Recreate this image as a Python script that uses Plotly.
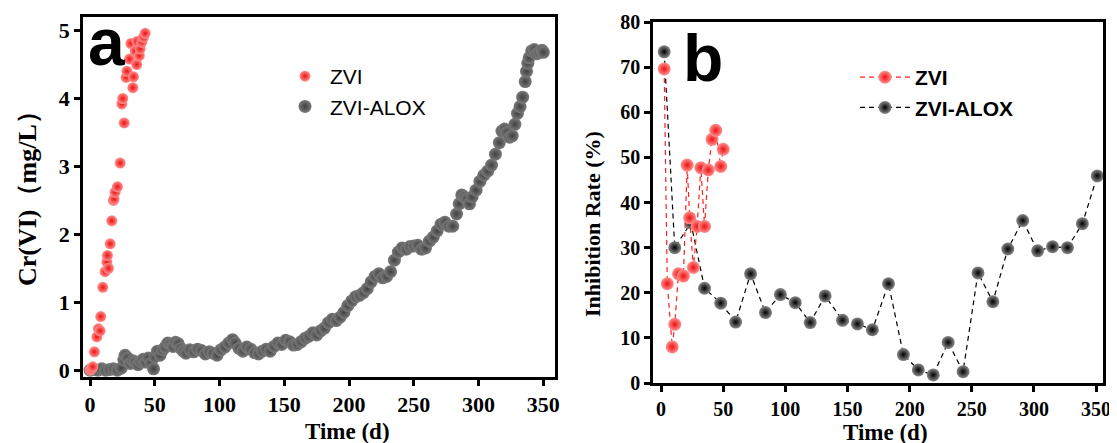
import plotly.graph_objects as go

# ---------------- data ----------------
# Panel a: Cr(VI) concentration (mg/L) vs time (d)
zvi_a_t = [0, 1, 2, 3.3, 5.2, 6.4, 7.7, 8.2, 9.8, 11.6, 12.9, 13.4, 14.2, 15.5, 16.7, 18, 18.5,
           19.3, 21.1, 23.2, 24.5, 25.2, 26.3, 27.8, 28.4, 30.4, 31.5, 33, 33.5, 34.8, 36, 36.2,
           38, 38.6, 39.9, 41.2, 42.5]
zvi_a_v = [0, 0.02, 0.05, 0.27, 0.49, 0.61, 0.58, 0.79, 1.22, 1.45, 1.59, 1.69, 1.5, 1.86, 2.2, 2.5,
           2.52, 2.62, 2.7, 3.05, 3.92, 4.0, 3.64, 4.31, 4.4, 4.58, 4.81, 4.16, 4.32, 4.7, 4.5, 4.84,
           4.63, 4.73, 4.83, 4.9, 4.96]

alox_a_t = [0, 3, 6, 9, 12, 15, 18, 21, 24, 26, 27, 29, 31, 33, 35, 37, 39, 41, 43, 45, 47, 49, 50,
            52, 54, 56, 58, 60, 62, 64, 66, 68, 70, 72, 74, 77, 80, 83, 86, 89, 92, 95, 98, 101, 104,
            107, 110, 112, 115, 118, 121, 124, 127, 130, 133, 136, 139, 142, 145, 148, 151, 154, 157,
            160, 163, 166, 169, 172, 175, 178, 181, 184, 187, 190, 193, 196, 199, 202, 205, 208, 211,
            214, 217, 220, 223, 226, 229, 232, 235, 238, 241, 244, 247, 250, 253, 256, 259, 262, 265,
            268, 271, 274, 277, 280, 283, 285, 287, 289, 291, 293, 295, 298, 301, 304, 307, 310, 313,
            316, 318, 320, 322, 324, 326, 328, 330, 332, 334, 336, 337, 338, 339, 341, 343, 345, 347,
            349, 350]
alox_a_v = [0.00, 0.01, 0.00, 0.02, 0.00, 0.01, 0.02, 0.00, 0.03, 0.15, 0.22, 0.18, 0.10, 0.14, 0.12,
            0.08, 0.13, 0.16, 0.12, 0.18, 0.10, 0.02, 0.20, 0.28, 0.22, 0.30, 0.34, 0.40, 0.38, 0.35,
            0.41, 0.39, 0.32, 0.28, 0.25, 0.30, 0.27, 0.31, 0.29, 0.24, 0.27, 0.25, 0.22, 0.30, 0.34,
            0.40, 0.45, 0.40, 0.32, 0.28, 0.34, 0.31, 0.26, 0.24, 0.28, 0.31, 0.28, 0.35, 0.40, 0.38,
            0.44, 0.42, 0.37, 0.38, 0.42, 0.47, 0.50, 0.55, 0.52, 0.58, 0.62, 0.70, 0.75, 0.73, 0.78,
            0.85, 0.95, 1.02, 1.08, 1.10, 1.14, 1.20, 1.30, 1.38, 1.42, 1.36, 1.38, 1.45, 1.62, 1.74,
            1.80, 1.78, 1.82, 1.83, 1.84, 1.78, 1.80, 1.90, 1.96, 2.05, 2.15, 2.18, 2.12, 2.12, 2.30,
            2.45, 2.58, 2.55, 2.52, 2.45, 2.55, 2.65, 2.78, 2.87, 2.93, 3.02, 3.18, 3.35, 3.52, 3.55,
            3.50, 3.43, 3.45, 3.62, 3.78, 3.88, 4.02, 4.25, 4.40, 4.52, 4.60, 4.70, 4.72, 4.66, 4.68,
            4.71, 4.68]

# Panel b: inhibition rate (%) vs time (d)
zvi_b_t = [2.5, 5, 9, 11, 14, 18, 21, 23, 26, 29, 32, 35, 38, 41, 44, 48, 50]
zvi_b_v = [69.6, 22, 8, 13, 24.2, 23.7, 48.3, 36.6, 25.6, 34.7, 47.7, 34.7, 47.2, 54, 56, 48, 51.8]

alox_b_t = [2.5, 11, 24, 35, 48, 60, 72, 84, 96, 108, 120, 132, 146, 158, 170, 183, 195, 207, 219,
            231, 243, 255, 267, 279, 291, 303, 315, 327, 339, 351]
alox_b_v = [73.4, 30, 35.5, 21, 17.7, 13.5, 24.2, 15.6, 19.6, 17.8, 13.4, 19.3, 13.9, 13.1, 11.8,
            22, 6.3, 2.9, 1.8, 9, 2.5, 24.4, 18, 29.7, 36, 29.3, 30.2, 30, 35.3, 45.9]

x_ticks = [0, 50, 100, 150, 200, 250, 300, 350]
ya_ticks = [0, 1, 2, 3, 4, 5]
yb_ticks = [0, 10, 20, 30, 40, 50, 60, 70, 80]

# ---------------- figure ----------------
W, H = 1117, 443
OFF = 8  # page body margin offset (screen px)
RED_C, RED_E = '#ff9090', '#ee1010'
GRAY_C, GRAY_E = '#7a7a7a', '#404040'
BLK_C, BLK_E = '#8a8a8a', '#000000'

fig = go.Figure()

fig.add_trace(go.Scatter(
    x=alox_a_t, y=alox_a_v, mode='markers', name='ZVI-ALOX', legend='legend', legendrank=2,
    marker=dict(size=13, color=GRAY_C, gradient=dict(type='radial', color=GRAY_E), line=dict(width=0)),
    xaxis='x', yaxis='y', cliponaxis=False))
fig.add_trace(go.Scatter(
    x=zvi_a_t, y=zvi_a_v, mode='markers', name='ZVI', legend='legend', legendrank=1,
    marker=dict(size=11, color=RED_C, gradient=dict(type='radial', color=RED_E), line=dict(width=0)),
    xaxis='x', yaxis='y', cliponaxis=False))

fig.add_trace(go.Scatter(
    x=alox_b_t, y=alox_b_v, mode='lines+markers', name='ZVI-ALOX', legend='legend2', legendrank=2,
    line=dict(color='black', width=1.2, dash='5px,4px'),
    marker=dict(size=13, color=BLK_C, gradient=dict(type='radial', color=BLK_E), line=dict(width=0)),
    xaxis='x2', yaxis='y2', cliponaxis=False))
fig.add_trace(go.Scatter(
    x=zvi_b_t, y=zvi_b_v, mode='lines+markers', name='ZVI', legend='legend2', legendrank=1,
    line=dict(color='#ff2020', width=1.2, dash='5px,4px'),
    marker=dict(size=13, color=RED_C, gradient=dict(type='radial', color=RED_E), line=dict(width=0)),
    xaxis='x2', yaxis='y2', cliponaxis=False))

tickfont_a = dict(family='Liberation Serif', size=22, color='black', weight='bold')
tickfont_b = dict(family='Liberation Serif', size=20, color='black', weight='bold')
common = dict(showline=True, linewidth=2.5, linecolor='black', mirror=True, ticks='outside',
              ticklen=6, tickwidth=2.5, tickcolor='black', showgrid=False, zeroline=False,
              automargin=False)

def px(xs):
    return (xs - OFF) / W

def py(ys):
    return 1 - (ys - OFF) / H

fig.update_layout(
    width=W, height=H, margin=dict(l=0, r=0, t=0, b=0, autoexpand=False),
    paper_bgcolor='white', plot_bgcolor='white',
    xaxis=dict(domain=[px(83), px(555)], range=[-5.5, 359], tickvals=x_ticks, anchor='y',
               tickfont=tickfont_a, **common),
    yaxis=dict(domain=[py(377), py(17)], range=[-0.1, 5.2], tickvals=ya_ticks, anchor='x',
               tickfont=tickfont_a, **common),
    xaxis2=dict(domain=[px(653), px(1103)], range=[-6.5, 355.6], tickvals=x_ticks, anchor='y2',
                tickfont=tickfont_b, **common),
    yaxis2=dict(domain=[py(383), py(22)], range=[0, 80], tickvals=yb_ticks, anchor='x2',
                tickfont=tickfont_b, **common),
    legend=dict(x=px(280), y=py(56), xanchor='left', yanchor='top', bgcolor='rgba(0,0,0,0)',
                font=dict(family='Liberation Sans', size=21, color='black'), itemwidth=40),
    legend2=dict(x=px(855), y=py(57), xanchor='left', yanchor='top', bgcolor='rgba(0,0,0,0)',
                 font=dict(family='Liberation Sans', size=21, color='black', weight='bold'), itemwidth=50),
    showlegend=True,
)

ann_font = dict(family='Liberation Serif', color='black', weight='bold')
def ann(text, xs, ys, font, angle=0, xanchor='center'):
    fig.add_annotation(text=text, x=px(xs), y=py(ys), xref='paper', yref='paper',
                       xanchor=xanchor, yanchor='middle', textangle=angle,
                       showarrow=False, font=font)

ann('Cr(VI)（mg/L）', 27, 192, dict(size=26, **ann_font), angle=-90)
ann('Time (d)', 347, 431, dict(size=23, **ann_font))
ann('Time (d)', 885, 432, dict(size=23, **ann_font))
ann('Inhibition Rate (%)', 592, 224, dict(size=22, **ann_font), angle=-90)
ann('a', 86, 42, dict(family='Liberation Sans', size=66, color='black', weight='bold'), xanchor='left')
ann('b', 681, 58, dict(family='Liberation Sans', size=66, color='black', weight='bold'), xanchor='left')

fig.write_html('out.html')
